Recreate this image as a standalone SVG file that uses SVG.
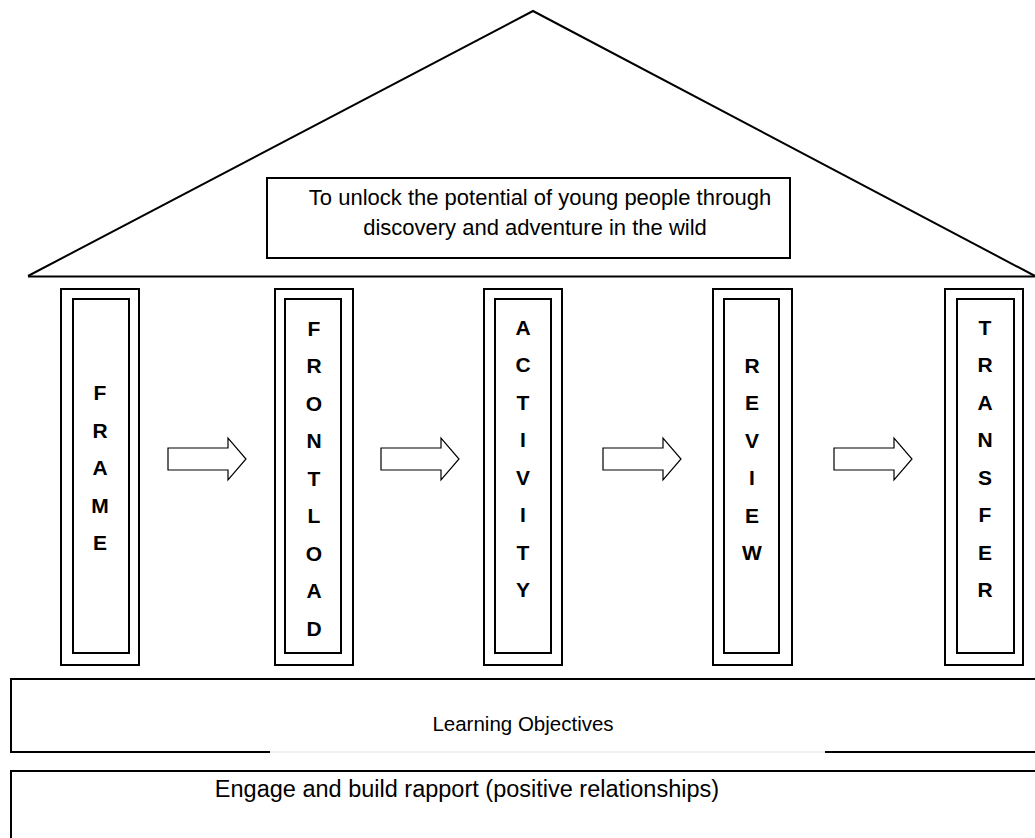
<svg xmlns="http://www.w3.org/2000/svg" width="1035" height="838" viewBox="0 0 1035 838">
<style>
.ln{fill:none;stroke:#000;stroke-width:2}
.pl{fill:#fff;stroke:#000;stroke-width:2}
.ar{fill:#fff;stroke:#000;stroke-width:1.2}
.t{font-family:"Liberation Sans",Arial,sans-serif;fill:#000}
.lt{font-family:"Liberation Sans",Arial,sans-serif;font-weight:bold;font-size:21px;fill:#000;text-anchor:middle}
</style>
<defs>
<polygon id="arrow" class="ar" points="0,-11 60,-11 60,-21 78,0 60,21 60,11 0,11"/>
</defs>
<rect width="1035" height="838" fill="#fff"/>
<g id="roof">
<polyline class="ln" points="28,276 533,11 1035,276"/>
<line class="ln" x1="28" y1="276.5" x2="1035" y2="276.5" stroke-width="2.4"/>
</g>
<g id="mission">
<rect class="ln" x="267" y="178" width="523" height="80"/>
<text class="t" font-size="22" text-anchor="middle" x="540" y="205">To unlock the potential of young people through</text>
<text class="t" font-size="22" text-anchor="middle" x="535" y="235">discovery and adventure in the wild</text>
</g>
<g id="frame">
<rect class="pl" x="61" y="289" width="78" height="376"/>
<rect class="pl" x="73" y="299" width="56" height="354"/>
<text class="lt" x="100" y="400">F</text>
<text class="lt" x="100" y="437.5">R</text>
<text class="lt" x="100" y="475">A</text>
<text class="lt" x="100" y="512.5">M</text>
<text class="lt" x="100" y="550">E</text>
</g>
<g id="frontload">
<rect class="pl" x="275" y="289" width="78" height="376"/>
<rect class="pl" x="285" y="299" width="56" height="354"/>
<text class="lt" x="314" y="335.5">F</text>
<text class="lt" x="314" y="373">R</text>
<text class="lt" x="314" y="410.5">O</text>
<text class="lt" x="314" y="448">N</text>
<text class="lt" x="314" y="485.5">T</text>
<text class="lt" x="314" y="523">L</text>
<text class="lt" x="314" y="560.5">O</text>
<text class="lt" x="314" y="598">A</text>
<text class="lt" x="314" y="635.5">D</text>
</g>
<g id="activity">
<rect class="pl" x="484" y="289" width="78" height="376"/>
<rect class="pl" x="495" y="299" width="56" height="354"/>
<text class="lt" x="523" y="334.5">A</text>
<text class="lt" x="523" y="372">C</text>
<text class="lt" x="523" y="409.5">T</text>
<text class="lt" x="523" y="447">I</text>
<text class="lt" x="523" y="484.5">V</text>
<text class="lt" x="523" y="522">I</text>
<text class="lt" x="523" y="559.5">T</text>
<text class="lt" x="523" y="597">Y</text>
</g>
<g id="review">
<rect class="pl" x="713" y="289" width="79" height="376"/>
<rect class="pl" x="724" y="299" width="55" height="354"/>
<text class="lt" x="752" y="372.5">R</text>
<text class="lt" x="752" y="410">E</text>
<text class="lt" x="752" y="447.5">V</text>
<text class="lt" x="752" y="485">I</text>
<text class="lt" x="752" y="522.5">E</text>
<text class="lt" x="752" y="560">W</text>
</g>
<g id="transfer">
<rect class="pl" x="945" y="289" width="78" height="376"/>
<rect class="pl" x="957" y="299" width="57" height="354"/>
<text class="lt" x="985" y="334.5">T</text>
<text class="lt" x="985" y="372">R</text>
<text class="lt" x="985" y="409.5">A</text>
<text class="lt" x="985" y="447">N</text>
<text class="lt" x="985" y="484.5">S</text>
<text class="lt" x="985" y="522">F</text>
<text class="lt" x="985" y="559.5">E</text>
<text class="lt" x="985" y="597">R</text>
</g>
<g id="connectors">
<use href="#arrow" x="168" y="459"/>
<use href="#arrow" x="381" y="459"/>
<use href="#arrow" x="603" y="459"/>
<use href="#arrow" x="834" y="459"/>
</g>
<g id="learning-objectives">
<polyline class="ln" points="1035,679 11,679 11,752 270,752"/>
<line x1="270" y1="752" x2="825" y2="752" stroke="#e2e2e2" stroke-width="1"/>
<line class="ln" x1="825" y1="752" x2="1035" y2="752"/>
<text class="t" font-size="20.5" text-anchor="middle" x="523" y="731">Learning Objectives</text>
</g>
<g id="rapport">
<polyline class="ln" points="11,838 11,771 1035,771"/>
<text class="t" font-size="23.5" text-anchor="middle" x="467" y="797">Engage and build rapport (positive relationships)</text>
</g>
</svg>
